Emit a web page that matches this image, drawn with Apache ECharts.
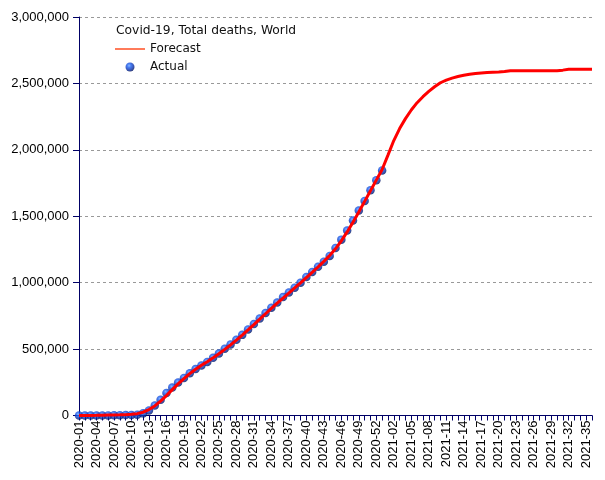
<!DOCTYPE html>
<html>
<head>
<meta charset="utf-8">
<script src="https://cdn.jsdelivr.net/npm/echarts@6/dist/echarts.min.js"></script>
<style>
html,body{margin:0;padding:0;background:#fff;}
#chart{width:605px;height:480px;}
</style>
</head>
<body>
<div id="chart"></div>
<script>
// Week categories: 2020-01 .. 2020-53, 2021-01 .. 2021-36
var weeks = [];
for (var w = 1; w <= 53; w++) weeks.push('2020-' + (w < 10 ? '0' + w : w));
for (var w2 = 1; w2 <= 36; w2++) weeks.push('2021-' + (w2 < 10 ? '0' + w2 : w2));

var chartTitle = 'Covid-19, Total deaths, World';
var yTicks = [0, 500000, 1000000, 1500000, 2000000, 2500000, 3000000];

// Actual cumulative deaths (2020-01 .. 2020-53)
var actual = [
  0, 0, 0, 60, 360, 900, 1800, 2500, 3000, 3800,
  6500, 16000, 38000, 75000, 118000, 170000, 210000, 248000, 283000, 318000,
  350000, 376000, 403000, 434000, 467000, 503000, 535000, 570000, 607000, 648000,
  688000, 730000, 772000, 812000, 850000, 892000, 926000, 962000, 1000000, 1043000,
  1081000, 1119000, 1158000, 1201000, 1261000, 1324000, 1393000, 1468000, 1543000, 1615000,
  1695000, 1771000, 1845000
];

// Forecast (2020-01 .. 2021-36)
var forecast = [
  0, 0, 500, 1000, 2000, 3000, 4000, 5000, 6500, 9000,
  14000, 25000, 45000, 72000, 108000, 150000, 195000, 238000, 278000, 315000,
  348000, 378000, 405000, 434000, 465000, 498000, 532000, 568000, 605000, 644000,
  684000, 725000, 766000, 806000, 846000, 884000, 922000, 960000, 998000, 1038000,
  1078000, 1118000, 1160000, 1205000, 1255000, 1315000, 1382000, 1455000, 1532000, 1612000,
  1692000, 1772000, 1852000, 1960000, 2070000, 2160000, 2235000, 2300000, 2355000, 2400000,
  2440000, 2475000, 2505000, 2525000, 2540000, 2552000, 2562000, 2569000, 2575000, 2579000,
  2582000, 2584000, 2586000, 2589000, 2596000, 2596000, 2596000, 2596000, 2596000, 2596000,
  2596000, 2596000, 2596000, 2600000, 2606000, 2606000, 2606000, 2606000, 2606000
];

var chart = echarts.init(document.getElementById('chart'), null, {renderer: 'canvas'});

var sphere = new echarts.graphic.RadialGradient(0.4, 0.35, 0.7, [
  {offset: 0, color: '#6aa6ff'},
  {offset: 0.3, color: '#1a5cf0'},
  {offset: 0.65, color: '#0832b0'},
  {offset: 1, color: '#000c50'}
]);

function fmt(v) {
  return String(v).replace(/\B(?=(\d{3})+(?!\d))/g, ',');
}

chart.setOption({
  animation: false,
  backgroundColor: '#ffffff',
  title: {
    text: chartTitle,
    left: 116,
    top: 25,
    padding: 0,
    textStyle: {fontFamily: 'DejaVu Sans', fontSize: 12.3, fontWeight: 'normal', color: '#111'}
  },
  legend: {
    orient: 'vertical',
    left: 115,
    top: 43,
    padding: 0,
    itemWidth: 30,
    itemHeight: 9,
    itemGap: 6,
    textStyle: {fontFamily: 'DejaVu Sans', fontSize: 12, color: '#111'},
    data: [
      {name: 'Forecast', icon: 'path://M0,0 L30,0 L30,1.3 L0,1.3 Z', itemStyle: {color: '#ff3300'}},
      {name: 'Actual', icon: 'circle'}
    ]
  },
  grid: {left: 79, right: 13, top: 17, bottom: 64.5, containLabel: false},
  xAxis: {
    type: 'category',
    data: weeks,
    boundaryGap: false,
    axisLine: {lineStyle: {color: '#000066', width: 1}},
    axisTick: {interval: 0, length: 5, lineStyle: {color: '#000066'}},
    axisLabel: {
      interval: 2,
      rotate: 90,
      margin: 5,
      fontFamily: 'Liberation Sans',
      fontSize: 13,
      color: '#000'
    },
    splitLine: {show: false}
  },
  yAxis: {
    type: 'value',
    min: yTicks[0],
    max: yTicks[yTicks.length - 1],
    interval: yTicks[1] - yTicks[0],
    axisLine: {show: true, lineStyle: {color: '#000066', width: 1}},
    axisTick: {show: true, length: 6, lineStyle: {color: '#000066'}},
    axisLabel: {
      margin: 10,
      fontFamily: 'Liberation Sans',
      fontSize: 13,
      color: '#000',
      formatter: fmt
    },
    splitLine: {show: true, lineStyle: {color: '#999', type: [3, 3], width: 1}}
  },
  series: [
    {
      name: 'Actual',
      type: 'scatter',
      data: actual,
      symbol: 'circle',
      symbolSize: 8.5,
      itemStyle: {color: sphere, borderWidth: 0},
      z: 2
    },
    {
      name: 'Forecast',
      type: 'line',
      data: forecast,
      showSymbol: false,
      symbol: 'none',
      lineStyle: {color: '#ff0000', width: 3},
      itemStyle: {color: '#ff0000'},
      z: 3
    }
  ]
});
</script>
</body>
</html>
